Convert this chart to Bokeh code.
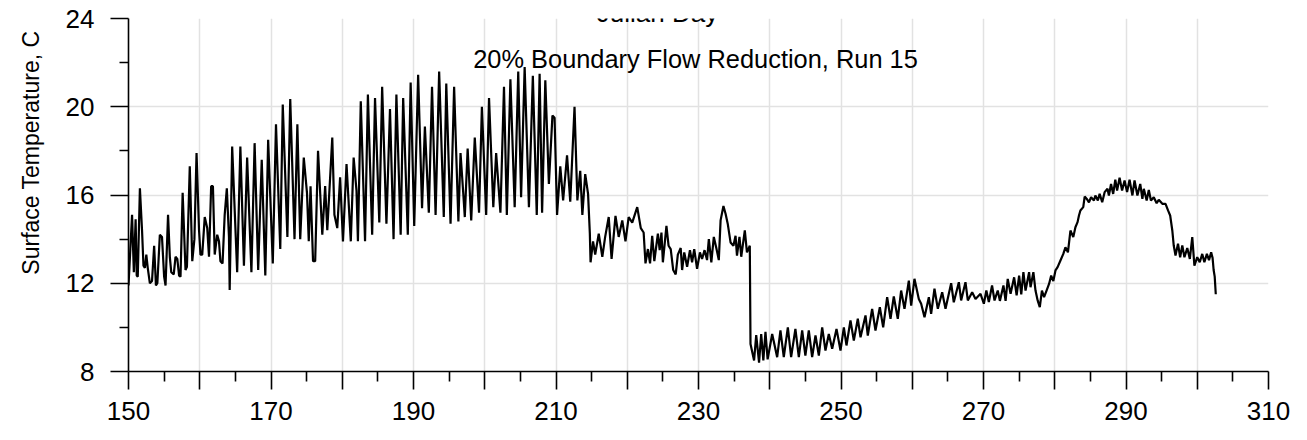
from bokeh.plotting import figure
from bokeh.models import FixedTicker, Label, Range1d, Title
from bokeh.embed import file_html
from bokeh.resources import INLINE

# Julian day / surface temperature (C)
days = [
    150.0, 150.5, 150.75, 151.0, 151.15, 151.3, 151.6, 151.9, 152.1, 152.3, 152.5, 152.7, 153.0, 153.3,
    153.6, 153.85, 154.05, 154.4, 154.7, 155.0, 155.2, 155.55, 155.8, 156.0, 156.35, 156.6, 156.85,
    157.1, 157.3, 157.6, 158.0, 158.2, 158.6, 158.95, 159.25, 159.55, 159.9, 160.1, 160.35, 160.7,
    161.05, 161.3, 161.6, 161.85, 162.1, 162.45, 162.7, 162.9, 163.2, 163.5, 163.8, 164.1,
    164.2, 164.55, 165.25, 165.7, 166.2, 166.65, 167.25, 167.7, 168.2, 168.7, 169.2, 169.6, 170.25,
    170.7, 171.3, 171.65, 172.3, 172.7, 173.3, 173.7, 174.1, 174.6, 175.05, 175.3, 175.55, 175.9,
    176.2, 176.6, 177.2, 177.6, 177.9, 178.6,
    178.9, 179.3, 179.7, 180.1, 180.6, 181.2, 181.6, 182.0, 182.2, 182.6, 183.2, 183.6, 184.2, 184.6,
    185.2, 185.6, 186.2, 186.7, 187.2, 187.6, 188.2, 188.55, 189.2, 189.6, 190.1, 190.65, 191.2,
    191.6, 192.15, 192.6, 193.1, 193.6,
    194.25, 194.6, 195.2, 195.7, 196.3, 196.6, 197.0, 197.2, 197.6, 198.1, 198.6, 199.2, 199.6,
    200.2, 200.6, 201.2, 201.6, 202.2, 202.7, 203.1, 203.6, 204.2, 204.7, 205.1, 205.6, 206.2,
    206.75, 207.3, 207.7, 208.05, 208.5, 209.0, 209.5, 209.8, 210.15, 210.6, 211.0, 211.55, 212.0,
    212.6, 213.0, 213.4, 213.7, 214.1, 214.5, 214.75, 214.85,
    215.2, 215.5, 216.0, 216.5, 216.9, 217.4, 217.8, 218.35, 218.8, 219.3, 219.75, 220.2, 220.7,
    221.4, 221.9, 222.3, 222.56, 222.9, 223.2, 223.5, 223.8, 224.3, 224.55, 224.8, 225.0, 225.5,
    225.8, 226.1, 226.45, 226.8, 227.1, 227.5, 227.7, 228.0, 228.4, 228.8, 229.1, 229.4, 229.8,
    230.2, 230.5, 230.85, 231.2, 231.45, 231.8, 232.15, 232.5, 232.85, 233.1, 233.5, 233.8, 234.1,
    234.5, 234.9, 235.2, 235.4, 235.75, 236.0, 236.5, 236.8, 237.2, 237.3, 237.8, 238.1, 238.5,
    238.8, 239.1, 239.4, 239.7,
    240.34, 241.04, 241.5, 241.97, 242.54, 243.0, 243.6, 244.08, 244.55, 245.0, 245.48, 245.95,
    246.42, 246.89, 247.36, 247.82, 248.29, 248.76, 249.37, 249.93, 250.4, 250.77, 251.33, 251.8,
    252.36, 252.74, 253.44, 253.76, 254.37, 254.84, 255.45, 255.92, 256.48, 256.95, 257.41, 257.97,
    258.44, 258.91, 259.52, 259.85, 260.31, 260.92, 261.25, 261.72, 262.33, 262.65, 263.12, 263.59,
    264.2, 264.67, 265.46, 265.83, 266.54, 266.86, 267.47, 267.8, 268.41, 268.88, 269.58, 270.05,
    270.4, 270.75, 271.2, 271.55, 272.0, 272.3, 272.8, 273.1, 273.4, 273.8, 274.3, 274.65, 275.0,
    275.3, 275.6, 275.9, 276.4, 276.6, 277.0, 277.3, 277.6, 277.9, 278.2, 278.5, 278.85, 279.2,
    279.5, 279.8, 280.1, 280.4, 280.8, 281.2, 281.5, 281.85, 282.2, 282.6, 282.9, 283.2, 283.4,
    283.6, 284.0, 284.2, 284.5, 284.8, 285.1, 285.5, 285.7, 286.05, 286.3, 286.66, 287.0, 287.4,
    287.6, 287.9, 288.2, 288.5, 288.75, 289.1, 289.45, 289.8, 290.15, 290.5, 290.9, 291.2, 291.6,
    292.0, 292.3, 292.5, 292.9, 293.2, 293.5, 293.9, 294.3, 294.6, 295.1, 295.55, 295.9, 296.2,
    296.5, 296.7, 296.95, 297.3, 297.6, 297.9, 298.2, 298.6, 298.96, 299.3, 299.6, 300.0, 300.35,
    300.7, 301.0, 301.35, 301.65, 301.95, 302.15, 302.3, 302.45, 302.6,
]
temps = [
    11.9, 15.1, 12.5, 14.9, 12.35, 12.3, 16.3, 14.4, 12.8, 12.7, 13.3, 12.7, 12.0, 12.1,
    13.7, 11.9, 12.0, 14.2, 14.1, 12.3, 11.9, 15.1, 13.2, 12.5, 12.4, 13.2, 13.1,
    12.35, 12.3, 16.1, 12.6, 12.75, 17.3, 13.0, 14.0, 17.9, 14.4, 13.3, 13.3, 15.0,
    14.5, 13.2, 16.4, 16.4, 13.3, 14.2, 13.9, 13.0, 12.9, 15.1, 16.3, 14.1,
    11.7, 18.2, 12.5, 18.2, 12.8, 17.7, 12.5, 18.35, 12.6, 17.6, 12.35, 18.5, 12.9,
    19.2, 13.55, 20.1, 14.1, 20.35, 14.0, 19.2, 14.0, 17.7, 16.1, 13.9, 16.4, 13.0,
    13.0, 18.0, 14.2, 16.4, 14.4, 18.6,
    15.1, 14.5, 16.8, 13.9, 17.4, 13.9, 17.7, 16.2, 13.9, 20.25, 13.9, 20.55, 14.2, 20.4,
    14.75, 20.9, 14.7, 19.9, 14.0, 20.55, 14.2, 20.4, 14.2, 21.1, 14.6, 21.45, 15.4,
    19.1, 15.2, 20.9, 15.1, 21.6,
    15.0, 21.05, 14.7, 20.9, 14.8, 17.9, 16.0, 15.0, 18.1, 14.85, 18.6, 15.2, 20.0,
    15.1, 20.4, 15.45, 17.9, 15.2, 20.9, 15.1, 21.25, 15.45, 21.6, 15.9, 21.8, 15.45,
    21.4, 15.1, 21.5, 15.2, 21.2, 16.5, 19.6, 19.5, 15.1, 17.3, 15.75, 17.8, 15.7,
    20.0, 15.75, 17.1, 15.1, 16.95, 16.05, 14.25, 12.95,
    13.9, 13.3, 14.25, 13.2, 14.1, 15.0, 13.1, 15.05, 14.1, 14.85, 13.9, 15.0, 14.75,
    15.45, 14.5, 14.3, 12.9, 13.55, 12.9, 14.15, 13.0, 14.25, 13.5, 14.3, 12.95, 14.6,
    13.7, 13.55, 12.6, 12.4, 13.3, 13.6, 12.6, 13.4, 12.75, 13.5, 12.95, 13.55, 12.65,
    13.4, 13.1, 13.5, 13.05, 14.0, 12.95, 14.1, 13.6, 13.05, 14.85, 15.5, 15.15, 14.7,
    13.85, 13.7, 14.15, 13.25, 14.1, 13.2, 14.4, 13.4, 13.7, 9.25, 8.5, 9.65, 8.4,
    9.7, 8.5, 9.8, 8.55,
    9.7, 8.65, 9.86, 8.65, 10.0, 8.65, 9.93, 8.65, 9.86, 8.72, 9.86, 8.65,
    9.63, 8.72, 10.0, 8.95, 9.7, 9.03, 9.93, 8.95, 10.0, 9.18, 10.31, 9.4,
    10.39, 9.55, 10.54, 9.63, 10.84, 9.86, 10.91, 10.0, 11.37, 10.39, 11.4, 10.39,
    11.67, 10.84, 12.12, 10.99, 12.2, 11.29, 11.07, 10.46, 11.37, 10.61, 11.75, 10.84,
    11.59, 10.84, 12.0, 11.14, 12.05, 11.22, 12.05, 11.22, 11.59, 11.29, 11.52, 11.07,
    11.67, 11.15, 11.9, 11.22, 11.67, 11.2, 11.9, 11.2, 12.2, 11.52, 12.27, 11.45, 12.35,
    11.5, 12.5, 11.67, 12.5, 11.82, 12.5, 11.67, 11.22, 10.92, 11.67, 11.37, 11.67, 11.97,
    12.35, 12.1, 12.58, 12.73, 13.03, 13.33, 13.63, 13.4, 14.39, 14.09, 14.54, 14.77, 15.07,
    15.3, 15.45, 15.93, 15.82, 15.67, 15.9, 15.75, 15.98, 15.75, 16.05, 15.67, 16.13, 16.28,
    15.98, 16.5, 16.05, 16.69, 16.2, 16.78, 16.2, 16.66, 16.13, 16.69, 15.98, 16.66, 15.98,
    16.5, 15.83, 16.28, 15.75, 16.23, 15.75, 15.9, 15.63, 15.78, 15.6, 15.6, 15.3, 15.07,
    14.39, 13.71, 13.26, 13.79, 13.18, 13.71, 13.18, 13.6, 13.1, 14.09, 12.8, 13.18, 12.95,
    13.33, 12.95, 13.33, 13.05, 13.4, 13.15, 12.6, 12.3, 11.5,
]

x_major = [150, 160, 170, 180, 190, 200, 210, 220, 230, 240, 250, 260, 270, 280, 290, 300, 310]
x_minor = [155, 165, 175, 185, 195, 205, 215, 225, 235, 245, 255, 265, 275, 285, 295, 305]
x_labeled = [150, 170, 190, 210, 230, 250, 270, 290, 310]
y_major = [8, 12, 16, 20, 24]
y_minor = [10, 14, 18, 22]
y_grid = [12, 16, 20, 24]

title_text = "Julian Day"
note_text = "20% Boundary Flow Reduction, Run 15"
ylabel_text = "Surface Temperature, C"

FONT = "Liberation Sans"

p = figure(width=1300, height=436, output_backend="svg", toolbar_location=None,
           x_range=Range1d(150, 310), y_range=Range1d(8, 24),
           min_border_left=128, min_border_right=32, min_border_top=18, min_border_bottom=65)
p.outline_line_color = None
p.background_fill_color = "white"
p.border_fill_color = "white"

p.line(days, temps, color="black", line_width=2.2)

xa = p.xaxis[0]
xa.ticker = FixedTicker(ticks=x_major, minor_ticks=x_minor)
xa.major_label_overrides = {t: ("" if t not in x_labeled else str(t)) for t in x_major}
ya = p.yaxis[0]
ya.ticker = FixedTicker(ticks=y_major, minor_ticks=y_minor)
for ax in (xa, ya):
    ax.axis_line_color = "black"
    ax.axis_line_width = 1.6
    ax.major_tick_line_color = "black"
    ax.major_tick_line_width = 1.6
    ax.minor_tick_line_color = "black"
    ax.minor_tick_line_width = 1.6
    ax.major_tick_in = 0
    ax.major_tick_out = 18
    ax.minor_tick_in = 0
    ax.minor_tick_out = 9
    ax.major_label_text_font = FONT
    ax.major_label_text_font_size = "26px"
    ax.major_label_text_color = "black"
xa.minor_tick_out = 10
xa.major_label_standoff = 12
ya.major_label_standoff = 16

p.xgrid.ticker = FixedTicker(ticks=x_major)
p.ygrid.ticker = FixedTicker(ticks=y_grid)
for g in (p.xgrid, p.ygrid):
    g.grid_line_color = "#e2e2e2"
    g.grid_line_width = 1.5

p.add_layout(Label(x=567, y=313, x_units="screen", y_units="screen", text=note_text,
                   text_font=FONT, text_font_size="25.4px", text_align="center",
                   text_baseline="alphabetic", text_color="black"))
p.add_layout(Label(x=529, y=359, x_units="screen", y_units="screen", text=title_text,
                   text_font=FONT, text_font_size="26px", text_align="center",
                   text_baseline="alphabetic", text_color="black"))
p.add_layout(Title(text=ylabel_text, align="right", vertical_align="top", offset=12, standoff=33,
                   text_font=FONT, text_font_size="23px", text_font_style="normal",
                   text_color="black"), "left")

open("out.html", "w").write(file_html(p, INLINE))
